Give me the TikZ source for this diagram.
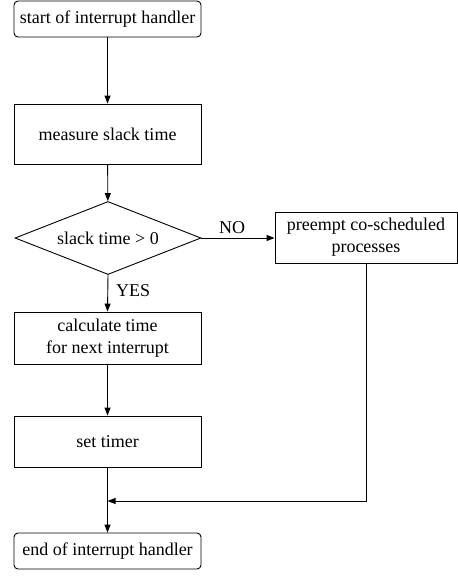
\documentclass[tikz,border=0pt]{standalone}
\usepackage{fontspec}
\setmainfont{Liberation Serif}
\usetikzlibrary{shapes.geometric,arrows.meta}
\begin{document}
\begin{tikzpicture}[x=1pt,y=-1pt,
  every node/.style={font=\rmfamily\fontsize{18}{22}\selectfont, align=center, inner sep=0pt},
  terminal/.style={draw, line width=0.9pt, rounded corners=4pt, minimum width=187pt, minimum height=36pt},
  procbox/.style={draw, line width=0.9pt, minimum width=187pt},
  decide/.style={draw, line width=0.9pt, diamond, aspect=2.55, minimum width=186pt, minimum height=73pt},
  flow/.style={line width=0.9pt, -{Triangle[length=8pt,width=6pt]}},
  lbl/.style={font=\rmfamily\fontsize{18}{20}\selectfont}
]
\useasboundingbox (0,0) rectangle (458,576);
\node[terminal] (start) at (107.5,19) {start of interrupt handler};
\node[procbox, minimum height=60pt] (measure) at (107.5,134) {measure slack time};
\node[decide] (dec) at (108,238) {slack time > 0};
\node[procbox, minimum width=182pt, minimum height=51pt] (preempt) at (366,237.5) {preempt co-scheduled\\processes};
\node[procbox, minimum height=52pt] (calc) at (107.5,338) {calculate time\\for next interrupt};
\node[procbox, minimum height=51pt] (timer) at (107.5,441.5) {set timer};
\node[terminal] (end) at (107.5,551) {end of interrupt handler};
\coordinate (join) at (107.5,501);
\draw[flow] (start) -- (measure);
\draw[flow] (measure) -- (dec);
\draw[flow] (dec.east) -- (preempt.west|-dec.east) node[lbl, pos=0.42, above=4pt] (no) {NO};
\draw[flow] (dec.south) -- (calc.north) node[lbl, pos=0.42, right=8pt] (yes) {YES};
\draw[flow] (calc) -- (timer);
\draw[flow] (timer) -- (end);
\draw[flow] (preempt.south) |- (join);
\end{tikzpicture}
\end{document}
